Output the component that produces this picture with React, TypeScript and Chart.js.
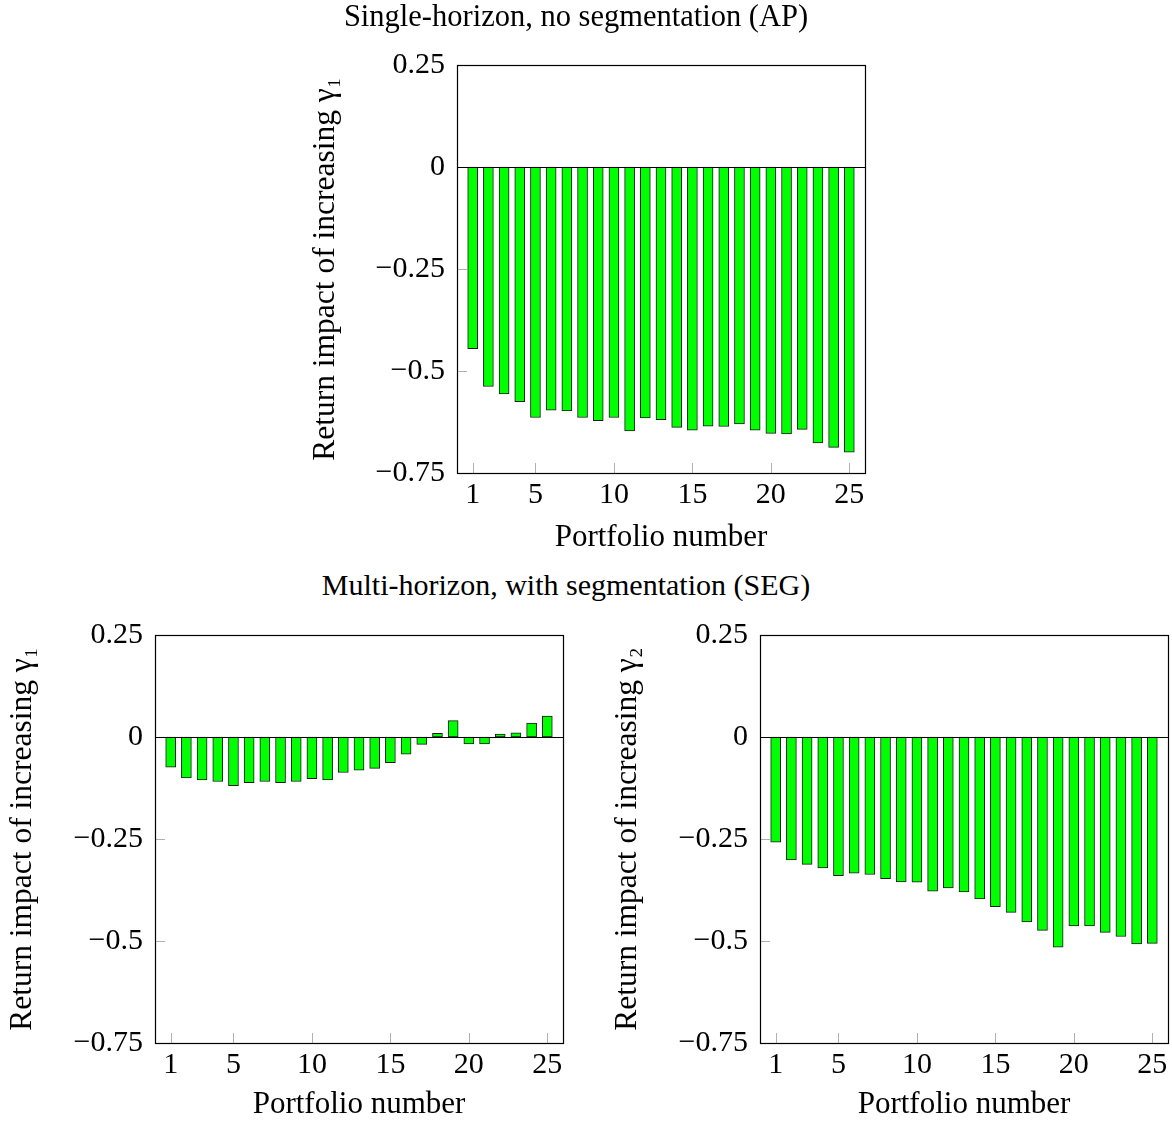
import React, { useEffect, useRef } from 'react';
import { Chart, registerables } from 'chart.js';

Chart.register(...registerables);

const FONT = "'Liberation Serif', 'Times New Roman', 'DejaVu Serif', serif";

// ---------- data ----------
const portfolios = [1, 2, 3, 4, 5, 6, 7, 8, 9, 10, 11, 12, 13, 14, 15, 16, 17, 18, 19, 20, 21, 22, 23, 24, 25];

const apGamma1 = [
  -0.445, -0.538, -0.556, -0.575, -0.614, -0.596, -0.598, -0.614, -0.622, -0.614,
  -0.647, -0.615, -0.619, -0.638, -0.645, -0.635, -0.636, -0.630, -0.645, -0.653,
  -0.654, -0.643, -0.676, -0.687, -0.699,
];

const segGamma1 = [
  -0.074, -0.100, -0.105, -0.109, -0.119, -0.112, -0.109, -0.112, -0.109, -0.102,
  -0.105, -0.087, -0.081, -0.077, -0.063, -0.042, -0.018, 0.009, 0.040, -0.017,
  -0.017, 0.007, 0.010, 0.034, 0.051,
];

const segGamma2 = [
  -0.258, -0.301, -0.312, -0.321, -0.340, -0.334, -0.337, -0.347, -0.355, -0.356,
  -0.378, -0.370, -0.380, -0.397, -0.416, -0.430, -0.453, -0.474, -0.515, -0.463,
  -0.463, -0.479, -0.489, -0.507, -0.506,
];

const xTickValues = [1, 5, 10, 15, 20, 25];
const yTickValues = [-0.75, -0.5, -0.25, 0, 0.25];
const yTickLabels = ['\u22120.75', '\u22120.5', '\u22120.25', '0', '0.25'];

const topTitle = 'Single-horizon, no segmentation (AP)';
const bottomTitle = 'Multi-horizon, with segmentation (SEG)';
const xTitle = 'Portfolio number';
const yTitle1 = 'Return impact of increasing \u03B3\u2081';
const yTitle2 = 'Return impact of increasing \u03B3\u2082';

// ---------- plugin: frame, inner ticks, zero line ----------
const framePlugin = {
  id: 'framePlugin',
  beforeDatasetsDraw(chart: any) {
    const { ctx, chartArea } = chart;
    const xs = chart.scales.x;
    const ys = chart.scales.y;
    ctx.save();
    ctx.strokeStyle = '#b0b0b0';
    ctx.lineWidth = 1;
    ctx.beginPath();
    xTickValues.forEach((v) => {
      const px = Math.round(xs.getPixelForValue(v)) + 0.5;
      ctx.moveTo(px, chartArea.bottom);
      ctx.lineTo(px, chartArea.bottom - 10);
    });
    yTickValues.forEach((v) => {
      const py = Math.round(ys.getPixelForValue(v)) + 0.5;
      ctx.moveTo(chartArea.left, py);
      ctx.lineTo(chartArea.left + 10, py);
    });
    ctx.stroke();
    ctx.restore();
  },
  afterDatasetsDraw(chart: any) {
    const { ctx, chartArea } = chart;
    const ys = chart.scales.y;
    ctx.save();
    ctx.strokeStyle = '#000';
    ctx.lineWidth = 1.2;
    const y0 = Math.round(ys.getPixelForValue(0)) + 0.5;
    ctx.beginPath();
    ctx.moveTo(chartArea.left, y0);
    ctx.lineTo(chartArea.right, y0);
    ctx.stroke();
    ctx.strokeRect(
      Math.round(chartArea.left) + 0.5,
      Math.round(chartArea.top) + 0.5,
      Math.round(chartArea.right) - Math.round(chartArea.left),
      Math.round(chartArea.bottom) - Math.round(chartArea.top)
    );
    ctx.restore();
  },
};

type Cfg = {
  values: number[];
  title?: string;
  titlePadBottom?: number;
  yTitle: string;
  yTitlePadTop: number;
  yWidth: number;
  xHeight: number;
  xTitlePadBottom: number;
  padding: { left: number; top: number; right: number; bottom: number };
};

function makeConfig(c: Cfg): any {
  const tickFont = { family: FONT, size: 30, weight: 'normal' as const };
  const titleFont = { family: FONT, size: 30.5, weight: 'normal' as const };
  const xTitleFont = { family: FONT, size: 31, weight: 'normal' as const };
  const yTitleFont = { family: FONT, size: 31.5, weight: 'normal' as const };
  return {
    type: 'bar',
    data: {
      datasets: [
        {
          data: portfolios.map((p, i) => ({ x: p, y: c.values[i] })),
          backgroundColor: '#00ff00',
          borderColor: '#1a1a1a',
          borderWidth: 1,
          borderSkipped: false,
          barThickness: 10,
        },
      ],
    },
    options: {
      responsive: false,
      animation: false,
      devicePixelRatio: 1,
      layout: { padding: c.padding },
      plugins: {
        legend: { display: false },
        tooltip: { enabled: false },
        title: c.title
          ? {
              display: true,
              text: c.title,
              color: '#000',
              font: titleFont,
              padding: { top: 0, bottom: c.titlePadBottom ?? 0 },
            }
          : { display: false },
      },
      scales: {
        x: {
          type: 'linear',
          min: 0,
          max: 26,
          offset: false,
          grid: { display: false, drawTicks: false },
          border: { display: false },
          afterBuildTicks: (s: any) => {
            s.ticks = xTickValues.map((v) => ({ value: v }));
          },
          ticks: {
            color: '#000',
            font: tickFont,
            padding: 4,
            autoSkip: false,
            maxRotation: 0,
            callback: (v: any) => String(v),
          },
          title: {
            display: true,
            text: xTitle,
            color: '#000',
            font: xTitleFont,
            padding: { top: 0, bottom: c.xTitlePadBottom },
          },
          afterFit: (s: any) => {
            s.height = c.xHeight;
            s.paddingLeft = 0;
            s.paddingRight = 0;
          },
        },
        y: {
          type: 'linear',
          min: -0.75,
          max: 0.25,
          grid: { display: false, drawTicks: false },
          border: { display: false },
          afterBuildTicks: (s: any) => {
            s.ticks = yTickValues.map((v) => ({ value: v }));
          },
          ticks: {
            color: '#000',
            font: tickFont,
            padding: 12,
            autoSkip: false,
            callback: (_v: any, i: number) => yTickLabels[i],
          },
          title: {
            display: true,
            text: c.yTitle,
            color: '#000',
            font: yTitleFont,
            padding: { top: c.yTitlePadTop, bottom: 0 },
          },
          afterFit: (s: any) => {
            s.width = c.yWidth;
            s.paddingTop = 0;
            s.paddingBottom = 0;
          },
        },
      },
    },
    plugins: [framePlugin],
  };
}

function ChartCanvas(props: { left: number; top: number; width: number; height: number; cfg: Cfg }) {
  const ref = useRef<HTMLCanvasElement | null>(null);
  useEffect(() => {
    if (!ref.current) return;
    const chart = new Chart(ref.current, makeConfig(props.cfg));
    return () => chart.destroy();
  }, []);
  return (
    <canvas
      ref={ref}
      width={props.width}
      height={props.height}
      style={{
        position: 'absolute',
        left: props.left,
        top: props.top,
        width: props.width,
        height: props.height,
        display: 'block',
      }}
    />
  );
}

export default function App() {
  return (
    <div
      style={{
        position: 'absolute',
        left: 0,
        top: 0,
        width: 1172,
        height: 1126,
        background: '#fff',
        overflow: 'hidden',
      }}
    >
      <ChartCanvas
        left={280}
        top={0}
        width={592}
        height={560}
        cfg={{
          values: apGamma1,
          title: topTitle,
          titlePadBottom: 28.4,
          yTitle: yTitle1,
          yTitlePadTop: 20,
          yWidth: 170,
          xHeight: 87,
          xTitlePadBottom: 4,
          padding: { left: 7, top: 0, right: 7, bottom: 0 },
        }}
      />
      <div
        style={{
          position: 'absolute',
          left: 0,
          top: 567,
          width: 1132,
          textAlign: 'center',
          fontFamily: FONT,
          fontSize: 30,
          lineHeight: '36px',
          color: '#000',
          whiteSpace: 'nowrap',
        }}
      >
        {bottomTitle}
      </div>
      <ChartCanvas
        left={0}
        top={600}
        width={580}
        height={526}
        cfg={{
          values: segGamma1,
          yTitle: yTitle1,
          yTitlePadTop: 4,
          yWidth: 155,
          xHeight: 83,
          xTitlePadBottom: 3,
          padding: { left: 0, top: 35, right: 17, bottom: 0 },
        }}
      />
      <ChartCanvas
        left={590}
        top={600}
        width={582}
        height={526}
        cfg={{
          values: segGamma2,
          yTitle: yTitle2,
          yTitlePadTop: 18.6,
          yWidth: 170,
          xHeight: 83,
          xTitlePadBottom: 3,
          padding: { left: 0, top: 35, right: 4, bottom: 0 },
        }}
      />
    </div>
  );
}
